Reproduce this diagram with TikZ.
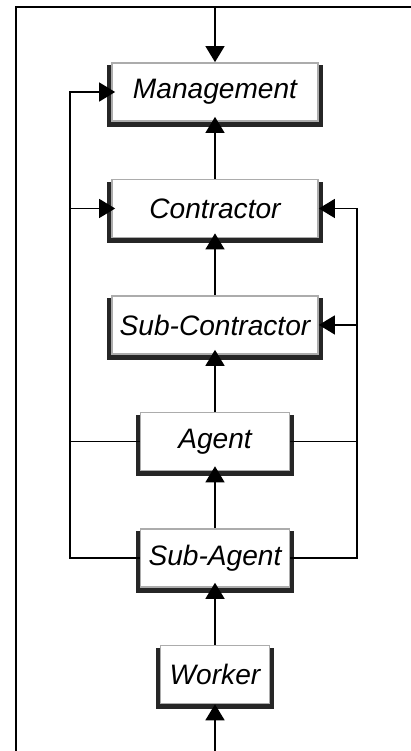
\documentclass[tikz,border=0pt]{standalone}
\usepackage{fontspec}
\setsansfont{Liberation Sans}
\usetikzlibrary{arrows.meta,positioning,backgrounds}

\begin{document}
\begin{tikzpicture}[x=0.02cm,y=-0.02cm,node distance=2.33cm,on grid,
    line width=0.8pt,>={Triangle[length=0.32cm,width=0.38cm]},
    unit/.style={draw=gray!65,fill=white,line width=1pt,inner sep=0pt,
      minimum height=1.16cm,font=\sffamily\itshape\fontsize{16}{19}\selectfont}]
    \useasboundingbox (0,0) rectangle (411,751);
    \node[unit,minimum width=4.12cm] (mgmt) at (215,92) {Management};
    \node[unit,minimum width=4.12cm] (contr) [below = of mgmt] {Contractor};
    \node[unit,minimum width=4.12cm] (subcontr) [below = of contr] {Sub-Contractor};
    \node[unit,minimum width=2.98cm] (agent) [below = of subcontr] {Agent};
    \node[unit,minimum width=2.98cm] (subagent) [below = of agent] {Sub-Agent};
    \node[unit,minimum width=2.18cm] (worker) [below = of subagent] {Worker};
    % dark edge behind every box
    \begin{scope}[on background layer]
      \foreach \n in {mgmt,contr,subcontr,agent,subagent,worker}
        \fill[black!85] ([shift={(-0.08cm,-0.06cm)}]\n.north west)
          rectangle ([shift={(0.08cm,-0.1cm)}]\n.south east);
    \end{scope}
    % frame and free ends
    \coordinate (fbot) at (16,751);
    \coordinate (fend) at (411,7);
    \coordinate (top) at (215,7);
    \coordinate (bot) at (215,751);
    \coordinate (lbus) at (70,0);
    \coordinate (rbus) at (357,0);
    \draw (fbot) |- (fend);
    \draw[->] (top) -- (mgmt.north);
    \draw[->] (bot) -- (worker.south);
    \path[->,shorten >=-0.1cm]
    (contr) edge (mgmt)
    (subcontr) edge (contr)
    (agent) edge (subcontr)
    (subagent) edge (agent)
    (worker) edge (subagent)
    ;
    % left side
    \draw[->,shorten >=-0.08cm] (subagent.west) -| (lbus |- mgmt.west) -- (mgmt.west);
    \draw[->,shorten >=-0.08cm] (lbus |- contr.west) -- (contr.west);
    \draw (agent.west) -- (lbus |- agent.west);
    % right side
    \draw[->] (subagent.east) -| (rbus |- contr.east) -- (contr.east);
    \draw[->] (rbus |- subcontr.east) -- (subcontr.east);
    \draw (agent.east) -- (rbus |- agent.east);
\end{tikzpicture}
\end{document}
